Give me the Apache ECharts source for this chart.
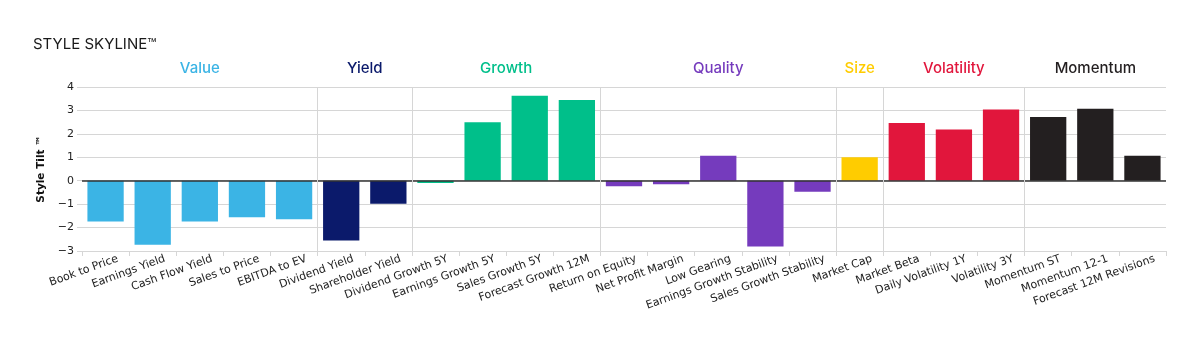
<!DOCTYPE html>
<html>
<head>
<meta charset="utf-8">
<title>Style Skyline</title>
<script src="https://cdn.jsdelivr.net/npm/echarts@6/dist/echarts.min.js"></script>
<style>
  html, body { margin: 0; padding: 0; background: #fff; }
  #chart { width: 1200px; height: 341px; }
</style>
</head>
<body>
<div id="chart"></div>
<script>
// Style factors, in display order
const categories = [
  'Book to Price', 'Earnings Yield', 'Cash Flow Yield', 'Sales to Price', 'EBITDA to EV',
  'Dividend Yield', 'Shareholder Yield',
  'Dividend Growth 5Y', 'Earnings Growth 5Y', 'Sales Growth 5Y', 'Forecast Growth 12M',
  'Return on Equity', 'Net Profit Margin', 'Low Gearing', 'Earnings Growth Stability', 'Sales Growth Stability',
  'Market Cap',
  'Market Beta', 'Daily Volatility 1Y', 'Volatility 3Y',
  'Momentum ST', 'Momentum 12-1', 'Forecast 12M Revisions'
];

// Style tilt per factor
const values = [
  -1.74, -2.73, -1.74, -1.56, -1.65,
  -2.55, -0.98,
  -0.10, 2.50, 3.63, 3.44,
  -0.24, -0.15, 1.07, -2.81, -0.47,
  1.00,
  2.46, 2.19, 3.04,
  2.72, 3.07, 1.07
];

// Factor groups: name, number of factors, colour
const groupNames  = ['Value', 'Yield', 'Growth', 'Quality', 'Size', 'Volatility', 'Momentum'];
const groupSizes  = [5, 2, 4, 5, 1, 3, 3];
const groupColors = ['#3bb4e5', '#0b1a6b', '#00bf8a', '#753bbd', '#ffcc00', '#e1163c', '#231f20'];

// Y axis ticks
const yTicks = [-3, -2, -1, 0, 1, 2, 3, 4];

// Group start/end positions along the category axis
const groupStarts = [];
let acc = 0;
groupSizes.forEach(n => { groupStarts.push(acc); acc += n; });

const barData = values.map((v, i) => {
  let g = 0;
  while (g + 1 < groupStarts.length && i >= groupStarts[g + 1]) g++;
  return { value: v, itemStyle: { color: groupColors[g] } };
});

const separators = groupStarts.slice(1).map(s => ({ xAxis: s }));
const groupAreas = groupNames.map((name, g) => [
  {
    name: name,
    xAxis: groupStarts[g],
    label: { color: groupColors[g] }
  },
  { xAxis: groupStarts[g] + groupSizes[g] }
]);

const fmtTick = v => (v < 0 ? '\u2212' + Math.abs(v) : String(v));

const chart = echarts.init(document.getElementById('chart'), null, { renderer: 'canvas' });
chart.setOption({
  animation: false,
  backgroundColor: '#fff',
  title: {
    text: 'STYLE SKYLINE\u2122',
    left: 28,
    top: 32,
    textStyle: { fontFamily: 'Inter', fontSize: 15, fontWeight: 'normal', color: '#1a1a1a' }
  },
  grid: { left: 82, right: 34, top: 87, bottom: 90, containLabel: false },
  xAxis: [
    {
      type: 'category',
      data: categories,
      boundaryGap: true,
      axisLine: { onZero: false, lineStyle: { color: '#d6d6d6', width: 1 } },
      axisTick: { show: true, alignWithLabel: false, length: 5, lineStyle: { color: '#d6d6d6' } },
      axisLabel: {
        interval: 0,
        rotate: 20,
        margin: 6,
        verticalAlign: 'top',
        padding: [0, -11, 0, 0],
        fontFamily: 'DejaVu Sans',
        fontSize: 11,
        color: '#222'
      },
      splitLine: { show: false }
    },
    {
      type: 'value',
      min: 0,
      max: categories.length,
      show: false
    }
  ],
  yAxis: {
    type: 'value',
    min: yTicks[0],
    max: yTicks[yTicks.length - 1],
    interval: 1,
    name: 'Style Tilt \u2122',
    nameLocation: 'middle',
    nameRotate: 90,
    nameGap: 31,
    nameTextStyle: { fontFamily: 'DejaVu Sans', fontSize: 10.5, fontWeight: 'bold', color: '#111' },
    axisLine: { show: false },
    axisTick: { show: true, length: 5, lineStyle: { color: '#d6d6d6' } },
    axisLabel: {
      formatter: fmtTick,
      margin: 8,
      fontFamily: 'DejaVu Sans',
      fontSize: 11,
      color: '#222'
    },
    splitLine: { lineStyle: { color: '#d6d6d6', width: 1 } }
  },
  series: [
    {
      type: 'bar',
      xAxisIndex: 0,
      data: barData,
      barCategoryGap: '23%',
      markLine: {
        silent: true,
        symbol: 'none',
        label: { show: false },
        lineStyle: { color: '#333', width: 1.5, type: 'solid' },
        data: [{ yAxis: 0 }],
        z: 5
      },
      z: 3
    },
    {
      type: 'scatter',
      xAxisIndex: 1,
      yAxisIndex: 0,
      data: [],
      silent: true,
      markLine: {
        silent: true,
        symbol: 'none',
        label: { show: false },
        lineStyle: { color: '#d6d6d6', width: 1, type: 'solid' },
        data: separators
      },
      markArea: {
        silent: true,
        itemStyle: { color: 'rgba(0,0,0,0)' },
        label: {
          show: true,
          position: 'top',
          distance: 11,
          fontFamily: 'Inter',
          fontSize: 15,
          fontWeight: 500
        },
        data: groupAreas
      }
    }
  ]
});
</script>
</body>
</html>
